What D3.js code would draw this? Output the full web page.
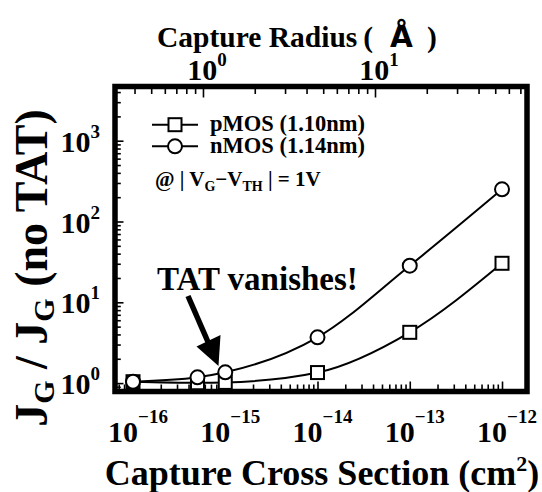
<!DOCTYPE html>
<html><head><meta charset="utf-8">
<script src="https://cdn.jsdelivr.net/npm/d3@7"></script>
<style>
html,body{margin:0;padding:0;background:#fff;}
svg text{font-family:"Liberation Serif","Times New Roman",serif;font-weight:bold;fill:#000;}
</style></head><body>
<svg id="chart" width="542" height="492"></svg>
<script>
// Capture cross section (cm^2) of the trap and the gate-current ratio J_G / J_G(no TAT)
const crossSection = [1e-16, 5e-16, 1e-15, 1e-14, 1e-13, 1e-12];
const pmosRatio = [1.04, 1.01, 1.02, 1.35, 4.25, 30.4];
const nmosRatio = [1.04, 1.18, 1.36, 3.69, 28.4, 250];
const seriesNames = ["pMOS (1.10nm)", "nMOS (1.14nm)"];
const bottomTickExps = ["−16", "−15", "−14", "−13", "−12"];
const topTickExps = ["0", "1"];
const leftTickExps = ["0", "1", "2", "3"];

const box = {left: 115, top: 86.5, right: 527, bottom: 391.5};
const svg = d3.select("#chart");

const x = d3.scaleLog().domain([6.38e-17, 1.866e-12]).range([box.left, box.right]);
const y = d3.scaleLog().domain([0.787, 4688]).range([box.bottom, box.top]);
// capture radius in angstrom, shown on the top axis
const xr = d3.scaleLog().domain([0.308, 76.5]).range([box.left, box.right]);

const isMajor = d => Math.abs(Math.log10(d) - Math.round(Math.log10(d))) < 1e-6;

function styleTicks(g, major, minor, attr) {
  g.select(".domain").remove();
  g.selectAll(".tick line")
    .attr("stroke", "#000").attr("stroke-width", 1.6)
    .attr(attr, d => (isMajor(d) ? major : minor));
}

// bottom axis (ticks pointing inward)
svg.append("g").attr("transform", `translate(0,${box.bottom})`)
  .call(d3.axisBottom(x).tickValues(x.ticks()).tickFormat("").tickSizeOuter(0))
  .call(g => styleTicks(g, -10, -7, "y2"));
// top axis
svg.append("g").attr("transform", `translate(0,${box.top})`)
  .call(d3.axisTop(xr).tickValues(xr.ticks()).tickFormat("").tickSizeOuter(0))
  .call(g => styleTicks(g, 11, 7.5, "y2"));
// left axis
svg.append("g").attr("transform", `translate(${box.left},0)`)
  .call(d3.axisLeft(y).tickValues(y.ticks()).tickFormat("").tickSizeOuter(0))
  .call(g => styleTicks(g, 8.5, 5.8, "x2"));

// frame
svg.append("rect")
  .attr("x", box.left).attr("y", box.top)
  .attr("width", box.right - box.left).attr("height", box.bottom - box.top)
  .attr("fill", "none").attr("stroke", "#000").attr("stroke-width", 5.5);

// tick labels of the form 10^n
function powerLabel(parent, px, py, exp, size, supSize, supRise, anchor) {
  const t = parent.append("text").attr("x", px).attr("y", py)
    .attr("text-anchor", anchor).style("font-size", size + "px");
  t.append("tspan").text("10");
  t.append("tspan").attr("dy", -supRise).style("font-size", supSize + "px").text(exp);
  return t;
}
bottomTickExps.forEach(e => {
  const v = Math.pow(10, +e.replace("−", "-"));
  powerLabel(svg, x(v) + 5, 442, e, 30, 19, 19, "middle");
});
topTickExps.forEach(e => {
  powerLabel(svg, xr(Math.pow(10, +e)) + 4, 80, e, 30, 19, 14, "middle");
});
leftTickExps.forEach(e => {
  powerLabel(svg, 100, y(Math.pow(10, +e)) + 11, e, 30, 19, 14, "end");
});

// fitted curves
const line = d3.line().x(d => x(d[0])).y(d => y(d[1])).curve(d3.curveMonotoneX);
const pmosPts = crossSection.map((s, i) => [s, pmosRatio[i]]);
const nmosPts = crossSection.map((s, i) => [s, nmosRatio[i]]);
[pmosPts, nmosPts].forEach(p => svg.append("path").attr("d", line(p))
  .attr("fill", "none").attr("stroke", "#000").attr("stroke-width", 2));

const sq = 13, rad = 7;
svg.append("g").selectAll("rect").data(pmosPts).join("rect")
  .attr("x", d => x(d[0]) - sq / 2).attr("y", d => y(d[1]) - sq / 2)
  .attr("width", sq).attr("height", sq)
  .attr("fill", "#fff").attr("stroke", "#000").attr("stroke-width", 2);
svg.append("g").selectAll("circle").data(nmosPts).join("circle")
  .attr("cx", d => x(d[0])).attr("cy", d => y(d[1])).attr("r", rad)
  .attr("fill", "#fff").attr("stroke", "#000").attr("stroke-width", 2);

// legend
const leg = svg.append("g");
[0, 1].forEach(i => {
  const ly = 124.7 + i * 21.6;
  leg.append("line").attr("x1", 152).attr("x2", 198).attr("y1", ly).attr("y2", ly)
    .attr("stroke", "#000").attr("stroke-width", 2);
  if (i === 0) {
    leg.append("rect").attr("x", 175 - sq / 2).attr("y", ly - sq / 2)
      .attr("width", sq).attr("height", sq)
      .attr("fill", "#fff").attr("stroke", "#000").attr("stroke-width", 2);
  } else {
    leg.append("circle").attr("cx", 175).attr("cy", ly).attr("r", rad)
      .attr("fill", "#fff").attr("stroke", "#000").attr("stroke-width", 2);
  }
  leg.append("text").attr("x", 210).attr("y", ly + 6.5)
    .style("font-size", "22.5px").text(seriesNames[i]);
});

// bias condition
const cond = svg.append("text").attr("x", 155).attr("y", 186).style("font-size", "21px");
cond.append("tspan").text("@ | V");
cond.append("tspan").attr("dy", 5).style("font-size", "14px").text("G");
cond.append("tspan").attr("dy", -5).text("−V");
cond.append("tspan").attr("dy", 5).style("font-size", "14px").text("TH");
cond.append("tspan").attr("dy", -5).text(" | = 1V");

// annotation
svg.append("text").attr("x", 157).attr("y", 290).style("font-size", "33px").text("TAT vanishes!");
svg.append("line").attr("x1", 188).attr("y1", 296).attr("x2", 208).attr("y2", 342)
  .attr("stroke", "#000").attr("stroke-width", 5.5);
svg.append("polygon").attr("points", "196.5,346.5 220.5,335 218.5,366").attr("fill", "#000");

// axis titles
const xt = svg.append("text").attr("x", 322).attr("y", 485)
  .attr("text-anchor", "middle").style("font-size", "36px");
xt.append("tspan").text("Capture Cross Section (cm");
xt.append("tspan").attr("dy", -14).style("font-size", "22px").text("2");
xt.append("tspan").attr("dy", 14).text(")");

const tt = svg.append("text").attr("x", 157).attr("y", 47).style("font-size", "29.5px");
tt.append("tspan").text("Capture Radius");
tt.append("tspan").attr("dx", 6).text("(");
tt.append("tspan").attr("dx", 17).style("font-family", "'DejaVu Sans', sans-serif").text("Å");
tt.append("tspan").attr("dx", 14).text(")");

const yt = svg.append("text").attr("transform", "translate(47,268) rotate(-90)")
  .attr("text-anchor", "middle").style("font-size", "46px");
yt.append("tspan").text("J");
yt.append("tspan").attr("dy", 7).style("font-size", "30px").text("G");
yt.append("tspan").attr("dy", -7).text(" / J");
yt.append("tspan").attr("dy", 7).style("font-size", "30px").text("G");
yt.append("tspan").attr("dy", -7).text(" (no TAT)");
</script>
</body></html>
